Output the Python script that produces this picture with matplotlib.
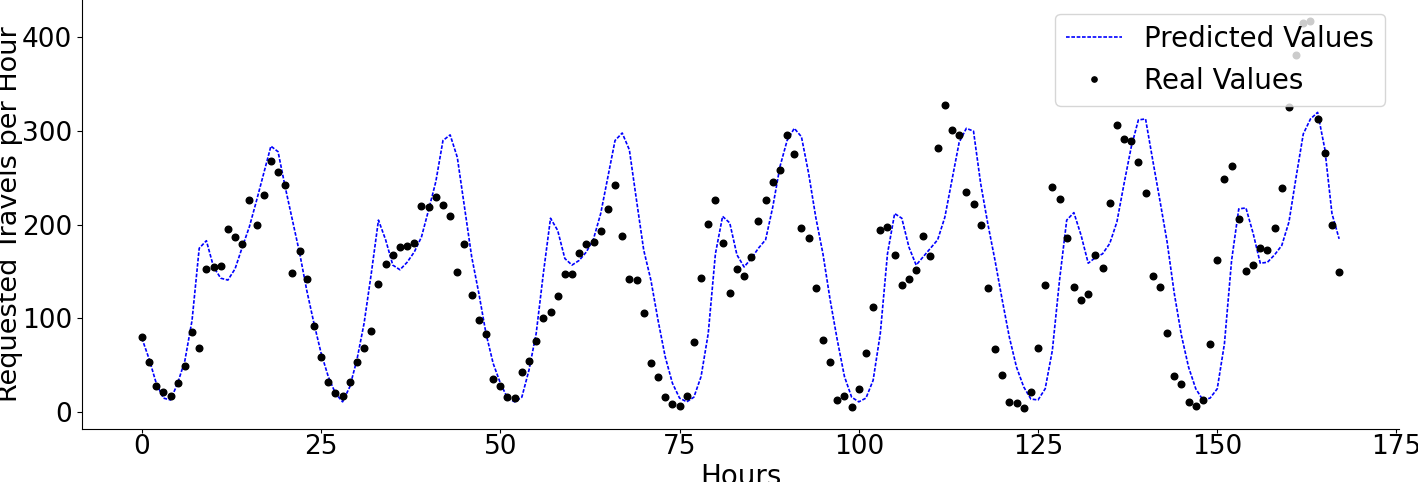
import matplotlib
matplotlib.use('Agg')
import matplotlib.pyplot as plt
import numpy as np

# hourly values (168 hours)
real_values = [
    80, 54, 28, 21, 17, 31, 49, 86, 68, 153, 155, 156, 195, 187, 180, 226, 200, 232, 268, 256,
    242, 149, 172, 142, 92, 59, 32, 20, 17, 32, 53, 69, 87, 137, 158, 168, 176, 177, 181, 220,
    219, 230, 221, 209, 150, 180, 125, 98, 83, 35, 28, 16, 15, 43, 55, 76, 101, 107, 124, 148,
    148, 170, 180, 182, 193, 217, 242, 188, 142, 141, 106, 52, 38, 16, 9, 7, 17, 75, 143, 201,
    227, 181, 127, 153, 145, 166, 204, 226, 246, 258, 296, 276, 197, 186, 132, 77, 53, 13, 17, 6,
    25, 63, 112, 194, 198, 168, 136, 142, 152, 188, 167, 282, 328, 301, 296, 235, 222, 200, 132, 67,
    40, 11, 10, 4, 21, 68, 136, 240, 228, 186, 134, 120, 126, 168, 154, 223, 307, 292, 289, 267,
    234, 145, 134, 84, 39, 30, 11, 7, 13, 73, 162, 249, 263, 206, 151, 157, 175, 173, 197, 239,
    326, 381, 415, 418, 313, 277, 200, 150,
]
predicted_values = [
    79, 57, 31, 15, 13, 31, 55, 98, 175, 183, 155, 143, 141, 153, 176, 198, 226, 255, 284, 278,
    240, 205, 170, 130, 95, 63, 38, 20, 11, 27, 56, 95, 148, 205, 184, 157, 152, 160, 171, 187,
    216, 246, 290, 296, 272, 219, 166, 127, 84, 52, 31, 15, 11, 16, 45, 84, 148, 207, 194, 164,
    157, 162, 171, 185, 212, 251, 290, 298, 280, 226, 173, 141, 98, 59, 31, 15, 11, 16, 38, 84,
    169, 209, 202, 168, 155, 164, 175, 184, 219, 262, 290, 303, 294, 255, 208, 169, 120, 77, 38, 16,
    11, 15, 34, 84, 169, 212, 207, 176, 157, 166, 175, 184, 208, 248, 288, 303, 300, 244, 201, 162,
    120, 80, 48, 27, 14, 13, 25, 66, 141, 205, 213, 189, 159, 165, 169, 180, 203, 244, 283, 312,
    313, 269, 226, 182, 127, 82, 48, 25, 13, 15, 25, 73, 162, 217, 218, 191, 159, 160, 168, 178,
    203, 251, 297, 313, 320, 281, 212, 185,
]
hours = np.arange(len(real_values))

fig = plt.figure(figsize=(14.18, 4.82), dpi=100)
ax = fig.add_axes([82 / 1418, 53 / 482, 1317 / 1418, 429 / 482])

ax.plot(hours, predicted_values, color='b', linestyle='--', dashes=(2.2, 1.0),
        linewidth=1.2, label='Predicted Values')
ax.plot(hours, real_values, 'k.', markersize=9.5, label='Real Values')

ax.set_ylim(-18, 440)
ax.set_xticks([0, 25, 50, 75, 100, 125, 150, 175])
ax.set_yticks([0, 100, 200, 300, 400])
ax.tick_params(labelsize=19)
ax.tick_params(axis='x', length=3, pad=0.5)
ax.spines['top'].set_visible(False)
ax.spines['right'].set_visible(False)

ax.set_xlabel('Hours', fontsize=20, labelpad=2)
ax.set_ylabel('Requested Travels per Hour', fontsize=19.5, labelpad=-1)
ax.legend(loc='upper right', fontsize=20, markerscale=0.8)

fig.savefig('out.png', dpi=100)
